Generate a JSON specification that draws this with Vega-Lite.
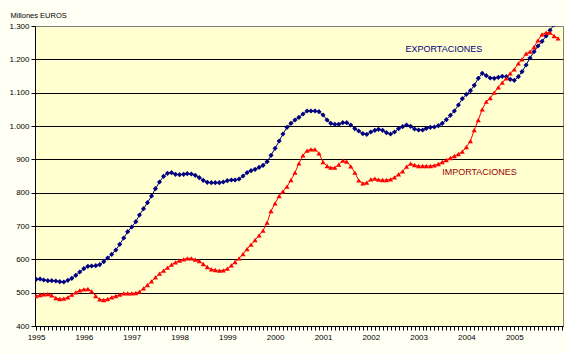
{
  "$schema": "https://vega.github.io/schema/vega-lite/v6.json",
  "width": 528,
  "height": 300,
  "autosize": {"type": "none"},
  "padding": {"left": 35, "top": 26, "right": 4, "bottom": 28},
  "background": "#FFFFF4",
  "config": {
    "view": {"fill": "#FFFFCF", "stroke": "#808080", "strokeWidth": 1},
    "font": "Liberation Sans"
  },
  "datasets": {
    "serie": [
      {"d":"1995-01-01","s":"EXP","v":540},{"d":"1995-02-01","s":"EXP","v":541},{"d":"1995-03-01","s":"EXP","v":538},{"d":"1995-04-01","s":"EXP","v":536},{"d":"1995-05-01","s":"EXP","v":536},{"d":"1995-06-01","s":"EXP","v":535},{"d":"1995-07-01","s":"EXP","v":533},{"d":"1995-08-01","s":"EXP","v":532},{"d":"1995-09-01","s":"EXP","v":537},{"d":"1995-10-01","s":"EXP","v":543},{"d":"1995-11-01","s":"EXP","v":552},{"d":"1995-12-01","s":"EXP","v":562},
      {"d":"1996-01-01","s":"EXP","v":572},{"d":"1996-02-01","s":"EXP","v":579},{"d":"1996-03-01","s":"EXP","v":580},{"d":"1996-04-01","s":"EXP","v":581},{"d":"1996-05-01","s":"EXP","v":584},{"d":"1996-06-01","s":"EXP","v":593},{"d":"1996-07-01","s":"EXP","v":604},{"d":"1996-08-01","s":"EXP","v":615},{"d":"1996-09-01","s":"EXP","v":628},{"d":"1996-10-01","s":"EXP","v":645},{"d":"1996-11-01","s":"EXP","v":664},{"d":"1996-12-01","s":"EXP","v":683},
      {"d":"1997-01-01","s":"EXP","v":697},{"d":"1997-02-01","s":"EXP","v":713},{"d":"1997-03-01","s":"EXP","v":733},{"d":"1997-04-01","s":"EXP","v":752},{"d":"1997-05-01","s":"EXP","v":770},{"d":"1997-06-01","s":"EXP","v":790},{"d":"1997-07-01","s":"EXP","v":812},{"d":"1997-08-01","s":"EXP","v":832},{"d":"1997-09-01","s":"EXP","v":849},{"d":"1997-10-01","s":"EXP","v":858},{"d":"1997-11-01","s":"EXP","v":860},{"d":"1997-12-01","s":"EXP","v":855},
      {"d":"1998-01-01","s":"EXP","v":854},{"d":"1998-02-01","s":"EXP","v":855},{"d":"1998-03-01","s":"EXP","v":857},{"d":"1998-04-01","s":"EXP","v":856},{"d":"1998-05-01","s":"EXP","v":852},{"d":"1998-06-01","s":"EXP","v":845},{"d":"1998-07-01","s":"EXP","v":837},{"d":"1998-08-01","s":"EXP","v":831},{"d":"1998-09-01","s":"EXP","v":830},{"d":"1998-10-01","s":"EXP","v":830},{"d":"1998-11-01","s":"EXP","v":830},{"d":"1998-12-01","s":"EXP","v":832},
      {"d":"1999-01-01","s":"EXP","v":836},{"d":"1999-02-01","s":"EXP","v":838},{"d":"1999-03-01","s":"EXP","v":838},{"d":"1999-04-01","s":"EXP","v":841},{"d":"1999-05-01","s":"EXP","v":850},{"d":"1999-06-01","s":"EXP","v":860},{"d":"1999-07-01","s":"EXP","v":866},{"d":"1999-08-01","s":"EXP","v":870},{"d":"1999-09-01","s":"EXP","v":876},{"d":"1999-10-01","s":"EXP","v":882},{"d":"1999-11-01","s":"EXP","v":893},{"d":"1999-12-01","s":"EXP","v":912},
      {"d":"2000-01-01","s":"EXP","v":933},{"d":"2000-02-01","s":"EXP","v":955},{"d":"2000-03-01","s":"EXP","v":976},{"d":"2000-04-01","s":"EXP","v":996},{"d":"2000-05-01","s":"EXP","v":1008},{"d":"2000-06-01","s":"EXP","v":1018},{"d":"2000-07-01","s":"EXP","v":1026},{"d":"2000-08-01","s":"EXP","v":1036},{"d":"2000-09-01","s":"EXP","v":1045},{"d":"2000-10-01","s":"EXP","v":1045},{"d":"2000-11-01","s":"EXP","v":1045},{"d":"2000-12-01","s":"EXP","v":1043},
      {"d":"2001-01-01","s":"EXP","v":1033},{"d":"2001-02-01","s":"EXP","v":1018},{"d":"2001-03-01","s":"EXP","v":1008},{"d":"2001-04-01","s":"EXP","v":1005},{"d":"2001-05-01","s":"EXP","v":1005},{"d":"2001-06-01","s":"EXP","v":1010},{"d":"2001-07-01","s":"EXP","v":1010},{"d":"2001-08-01","s":"EXP","v":1003},{"d":"2001-09-01","s":"EXP","v":992},{"d":"2001-10-01","s":"EXP","v":985},{"d":"2001-11-01","s":"EXP","v":977},{"d":"2001-12-01","s":"EXP","v":975},
      {"d":"2002-01-01","s":"EXP","v":982},{"d":"2002-02-01","s":"EXP","v":987},{"d":"2002-03-01","s":"EXP","v":990},{"d":"2002-04-01","s":"EXP","v":987},{"d":"2002-05-01","s":"EXP","v":980},{"d":"2002-06-01","s":"EXP","v":976},{"d":"2002-07-01","s":"EXP","v":982},{"d":"2002-08-01","s":"EXP","v":992},{"d":"2002-09-01","s":"EXP","v":998},{"d":"2002-10-01","s":"EXP","v":1003},{"d":"2002-11-01","s":"EXP","v":999},{"d":"2002-12-01","s":"EXP","v":991},
      {"d":"2003-01-01","s":"EXP","v":988},{"d":"2003-02-01","s":"EXP","v":988},{"d":"2003-03-01","s":"EXP","v":993},{"d":"2003-04-01","s":"EXP","v":996},{"d":"2003-05-01","s":"EXP","v":997},{"d":"2003-06-01","s":"EXP","v":1001},{"d":"2003-07-01","s":"EXP","v":1008},{"d":"2003-08-01","s":"EXP","v":1019},{"d":"2003-09-01","s":"EXP","v":1032},{"d":"2003-10-01","s":"EXP","v":1045},{"d":"2003-11-01","s":"EXP","v":1063},{"d":"2003-12-01","s":"EXP","v":1082},
      {"d":"2004-01-01","s":"EXP","v":1095},{"d":"2004-02-01","s":"EXP","v":1106},{"d":"2004-03-01","s":"EXP","v":1122},{"d":"2004-04-01","s":"EXP","v":1143},{"d":"2004-05-01","s":"EXP","v":1158},{"d":"2004-06-01","s":"EXP","v":1151},{"d":"2004-07-01","s":"EXP","v":1144},{"d":"2004-08-01","s":"EXP","v":1143},{"d":"2004-09-01","s":"EXP","v":1146},{"d":"2004-10-01","s":"EXP","v":1149},{"d":"2004-11-01","s":"EXP","v":1148},{"d":"2004-12-01","s":"EXP","v":1140},
      {"d":"2005-01-01","s":"EXP","v":1137},{"d":"2005-02-01","s":"EXP","v":1148},{"d":"2005-03-01","s":"EXP","v":1163},{"d":"2005-04-01","s":"EXP","v":1183},{"d":"2005-05-01","s":"EXP","v":1204},{"d":"2005-06-01","s":"EXP","v":1223},{"d":"2005-07-01","s":"EXP","v":1240},{"d":"2005-08-01","s":"EXP","v":1254},{"d":"2005-09-01","s":"EXP","v":1270},{"d":"2005-10-01","s":"EXP","v":1287},{"d":"2005-11-01","s":"EXP","v":1304},{"d":"2005-12-01","s":"EXP","v":1320},
      {"d":"1995-01-01","s":"IMP","v":490},{"d":"1995-02-01","s":"IMP","v":493},{"d":"1995-03-01","s":"IMP","v":495},{"d":"1995-04-01","s":"IMP","v":496},{"d":"1995-05-01","s":"IMP","v":492},{"d":"1995-06-01","s":"IMP","v":484},{"d":"1995-07-01","s":"IMP","v":481},{"d":"1995-08-01","s":"IMP","v":482},{"d":"1995-09-01","s":"IMP","v":486},{"d":"1995-10-01","s":"IMP","v":494},{"d":"1995-11-01","s":"IMP","v":501},{"d":"1995-12-01","s":"IMP","v":507},
      {"d":"1996-01-01","s":"IMP","v":510},{"d":"1996-02-01","s":"IMP","v":511},{"d":"1996-03-01","s":"IMP","v":504},{"d":"1996-04-01","s":"IMP","v":490},{"d":"1996-05-01","s":"IMP","v":480},{"d":"1996-06-01","s":"IMP","v":478},{"d":"1996-07-01","s":"IMP","v":481},{"d":"1996-08-01","s":"IMP","v":486},{"d":"1996-09-01","s":"IMP","v":490},{"d":"1996-10-01","s":"IMP","v":494},{"d":"1996-11-01","s":"IMP","v":498},{"d":"1996-12-01","s":"IMP","v":498},
      {"d":"1997-01-01","s":"IMP","v":498},{"d":"1997-02-01","s":"IMP","v":499},{"d":"1997-03-01","s":"IMP","v":503},{"d":"1997-04-01","s":"IMP","v":513},{"d":"1997-05-01","s":"IMP","v":523},{"d":"1997-06-01","s":"IMP","v":534},{"d":"1997-07-01","s":"IMP","v":546},{"d":"1997-08-01","s":"IMP","v":557},{"d":"1997-09-01","s":"IMP","v":566},{"d":"1997-10-01","s":"IMP","v":575},{"d":"1997-11-01","s":"IMP","v":584},{"d":"1997-12-01","s":"IMP","v":591},
      {"d":"1998-01-01","s":"IMP","v":596},{"d":"1998-02-01","s":"IMP","v":600},{"d":"1998-03-01","s":"IMP","v":603},{"d":"1998-04-01","s":"IMP","v":603},{"d":"1998-05-01","s":"IMP","v":599},{"d":"1998-06-01","s":"IMP","v":595},{"d":"1998-07-01","s":"IMP","v":586},{"d":"1998-08-01","s":"IMP","v":577},{"d":"1998-09-01","s":"IMP","v":570},{"d":"1998-10-01","s":"IMP","v":568},{"d":"1998-11-01","s":"IMP","v":566},{"d":"1998-12-01","s":"IMP","v":567},
      {"d":"1999-01-01","s":"IMP","v":572},{"d":"1999-02-01","s":"IMP","v":582},{"d":"1999-03-01","s":"IMP","v":592},{"d":"1999-04-01","s":"IMP","v":603},{"d":"1999-05-01","s":"IMP","v":616},{"d":"1999-06-01","s":"IMP","v":631},{"d":"1999-07-01","s":"IMP","v":644},{"d":"1999-08-01","s":"IMP","v":658},{"d":"1999-09-01","s":"IMP","v":672},{"d":"1999-10-01","s":"IMP","v":686},{"d":"1999-11-01","s":"IMP","v":710},{"d":"1999-12-01","s":"IMP","v":745},
      {"d":"2000-01-01","s":"IMP","v":768},{"d":"2000-02-01","s":"IMP","v":790},{"d":"2000-03-01","s":"IMP","v":804},{"d":"2000-04-01","s":"IMP","v":818},{"d":"2000-05-01","s":"IMP","v":838},{"d":"2000-06-01","s":"IMP","v":860},{"d":"2000-07-01","s":"IMP","v":888},{"d":"2000-08-01","s":"IMP","v":912},{"d":"2000-09-01","s":"IMP","v":926},{"d":"2000-10-01","s":"IMP","v":930},{"d":"2000-11-01","s":"IMP","v":930},{"d":"2000-12-01","s":"IMP","v":918},
      {"d":"2001-01-01","s":"IMP","v":892},{"d":"2001-02-01","s":"IMP","v":880},{"d":"2001-03-01","s":"IMP","v":875},{"d":"2001-04-01","s":"IMP","v":875},{"d":"2001-05-01","s":"IMP","v":884},{"d":"2001-06-01","s":"IMP","v":896},{"d":"2001-07-01","s":"IMP","v":893},{"d":"2001-08-01","s":"IMP","v":879},{"d":"2001-09-01","s":"IMP","v":860},{"d":"2001-10-01","s":"IMP","v":837},{"d":"2001-11-01","s":"IMP","v":828},{"d":"2001-12-01","s":"IMP","v":830},
      {"d":"2002-01-01","s":"IMP","v":840},{"d":"2002-02-01","s":"IMP","v":842},{"d":"2002-03-01","s":"IMP","v":839},{"d":"2002-04-01","s":"IMP","v":838},{"d":"2002-05-01","s":"IMP","v":838},{"d":"2002-06-01","s":"IMP","v":840},{"d":"2002-07-01","s":"IMP","v":846},{"d":"2002-08-01","s":"IMP","v":855},{"d":"2002-09-01","s":"IMP","v":864},{"d":"2002-10-01","s":"IMP","v":878},{"d":"2002-11-01","s":"IMP","v":887},{"d":"2002-12-01","s":"IMP","v":883},
      {"d":"2003-01-01","s":"IMP","v":880},{"d":"2003-02-01","s":"IMP","v":880},{"d":"2003-03-01","s":"IMP","v":880},{"d":"2003-04-01","s":"IMP","v":880},{"d":"2003-05-01","s":"IMP","v":882},{"d":"2003-06-01","s":"IMP","v":886},{"d":"2003-07-01","s":"IMP","v":892},{"d":"2003-08-01","s":"IMP","v":898},{"d":"2003-09-01","s":"IMP","v":904},{"d":"2003-10-01","s":"IMP","v":910},{"d":"2003-11-01","s":"IMP","v":916},{"d":"2003-12-01","s":"IMP","v":923},
      {"d":"2004-01-01","s":"IMP","v":937},{"d":"2004-02-01","s":"IMP","v":955},{"d":"2004-03-01","s":"IMP","v":988},{"d":"2004-04-01","s":"IMP","v":1018},{"d":"2004-05-01","s":"IMP","v":1050},{"d":"2004-06-01","s":"IMP","v":1073},{"d":"2004-07-01","s":"IMP","v":1084},{"d":"2004-08-01","s":"IMP","v":1100},{"d":"2004-09-01","s":"IMP","v":1116},{"d":"2004-10-01","s":"IMP","v":1130},{"d":"2004-11-01","s":"IMP","v":1143},{"d":"2004-12-01","s":"IMP","v":1158},
      {"d":"2005-01-01","s":"IMP","v":1170},{"d":"2005-02-01","s":"IMP","v":1188},{"d":"2005-03-01","s":"IMP","v":1200},{"d":"2005-04-01","s":"IMP","v":1217},{"d":"2005-05-01","s":"IMP","v":1223},{"d":"2005-06-01","s":"IMP","v":1237},{"d":"2005-07-01","s":"IMP","v":1257},{"d":"2005-08-01","s":"IMP","v":1275},{"d":"2005-09-01","s":"IMP","v":1280},{"d":"2005-10-01","s":"IMP","v":1280},{"d":"2005-11-01","s":"IMP","v":1270},{"d":"2005-12-01","s":"IMP","v":1263}
    ]
  },
  "encoding": {
    "x": {
      "field": "d",
      "type": "temporal",
      "scale": {
        "type": "utc",
        "domain": [
          {"year": 1994, "month": 12, "date": 24, "utc": true},
          {"year": 2006, "month": 1, "date": 8, "utc": true}
        ]
      },
      "axis": {
        "title": null,
        "grid": false,
        "tickCount": {"interval": "month", "step": 1},
        "labelExpr": "(utcmonth(datum.value) == 0 && utcyear(datum.value) < 2006) ? utcFormat(datum.value, '%Y') : ''",
        "labelOverlap": false,
        "labelFlush": false,
        "labelBound": false,
        "tickSize": 4,
        "tickColor": "black",
        "domainColor": "black",
        "labelColor": "black",
        "labelFontSize": 8,
        "labelPadding": 3,
        "labelFont": "Liberation Sans"
      }
    },
    "y": {
      "field": "v",
      "type": "quantitative",
      "scale": {"domain": [400, 1300], "nice": false, "zero": false},
      "axis": {
        "title": "Millones EUROS",
        "titleAngle": 0,
        "titleAlign": "left",
        "titleBaseline": "middle",
        "titleX": -25,
        "titleY": -11,
        "titleFontSize": 7.5,
        "titleFontWeight": "normal",
        "titleColor": "black",
        "titleFont": "Liberation Sans",
        "values": [400, 500, 600, 700, 800, 900, 1000, 1100, 1200, 1300],
        "labelExpr": "replace(format(datum.value, ','), ',', '.')",
        "labelFontSize": 8,
        "labelColor": "black",
        "labelPadding": 2,
        "labelFont": "Liberation Sans",
        "tickSize": 4,
        "tickColor": "black",
        "domainColor": "black",
        "grid": true,
        "gridColor": {"condition": {"test": "datum.value >= 1300", "value": "#808080"}, "value": "black"},
        "gridWidth": 1,
        "gridOpacity": 1
      }
    }
  },
  "layer": [
    {
      "data": {"name": "serie"},
      "mark": {"type": "line", "strokeWidth": 1, "clip": true},
      "encoding": {
        "color": {"field": "s", "type": "nominal", "scale": {"domain": ["EXP", "IMP"], "range": ["#000080", "#FF0000"]}, "legend": null}
      }
    },
    {
      "data": {"name": "serie"},
      "mark": {"type": "point", "filled": true, "size": 26, "opacity": 1, "clip": true},
      "encoding": {
        "color": {"field": "s", "type": "nominal", "scale": {"domain": ["EXP", "IMP"], "range": ["#000080", "#FF0000"]}, "legend": null},
        "shape": {"field": "s", "type": "nominal", "scale": {"domain": ["EXP", "IMP"], "range": ["diamond", "triangle-up"]}, "legend": null}
      }
    },
    {
      "data": {"values": [{"d": "2003-07-13", "v": 1231, "t": "EXPORTACIONES"}]},
      "mark": {"type": "text", "fontSize": 9, "color": "#000080", "font": "Liberation Sans"},
      "encoding": {"text": {"field": "t"}}
    },
    {
      "data": {"values": [{"d": "2004-04-10", "v": 861, "t": "IMPORTACIONES"}]},
      "mark": {"type": "text", "fontSize": 9, "color": "#990000", "font": "Liberation Sans"},
      "encoding": {"text": {"field": "t"}}
    }
  ]
}
